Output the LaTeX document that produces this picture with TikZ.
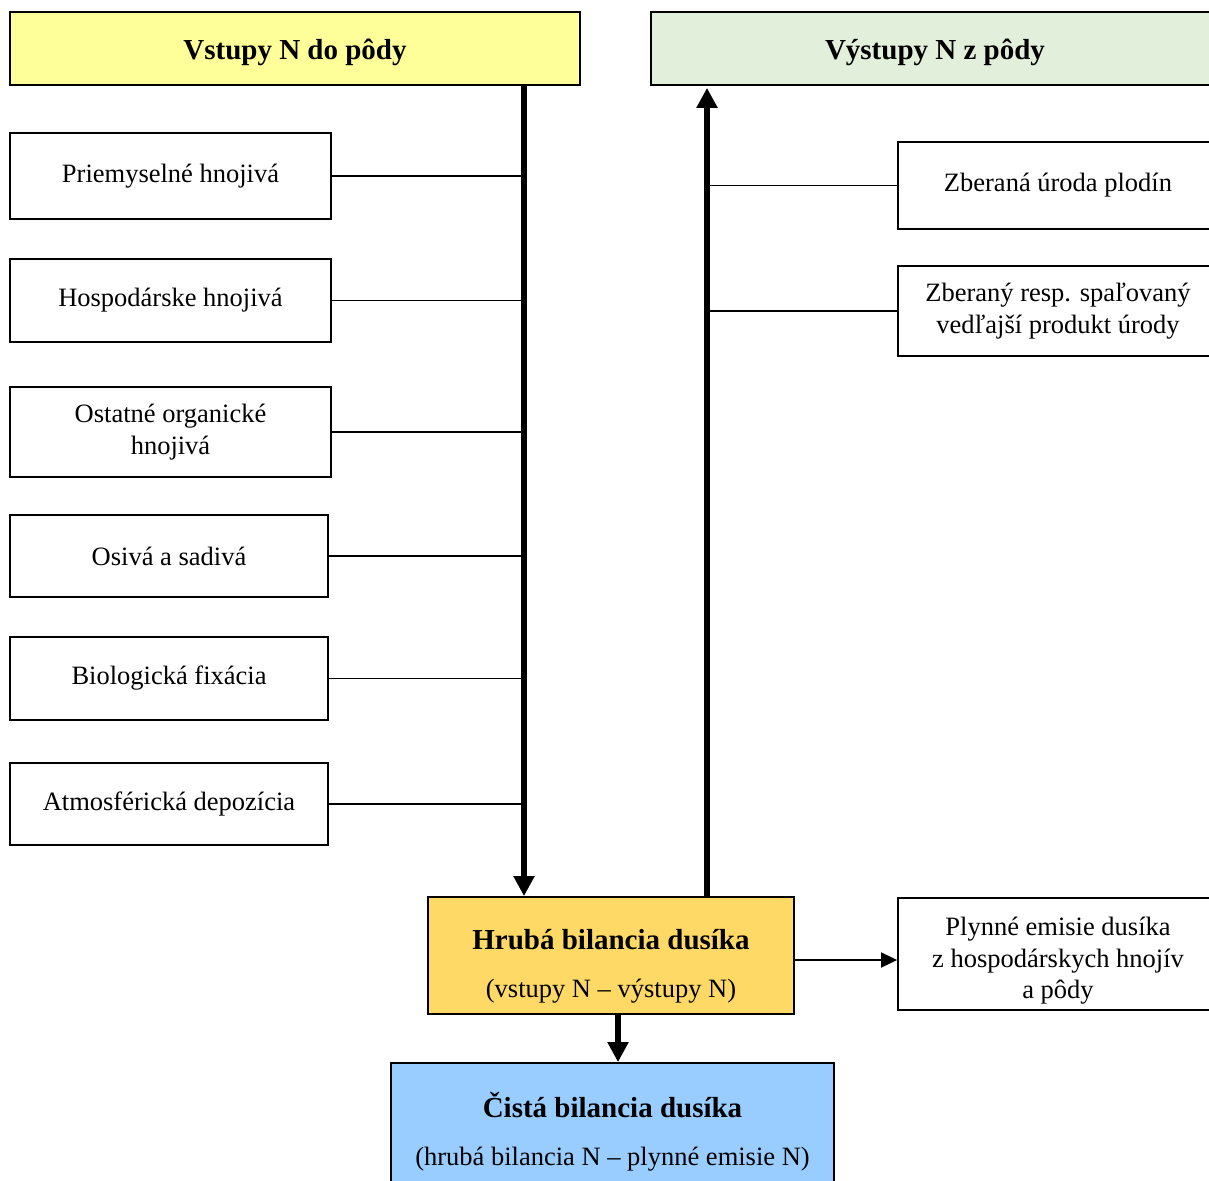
\documentclass[tikz,border=0pt]{standalone}
\usepackage{fontspec}
\setmainfont{Liberation Serif}
\usetikzlibrary{arrows.meta}
\newcommand\bodyfs{\fontsize{26.5}{31.5}\selectfont}
\newcommand\headfs{\fontsize{29}{34}\selectfont\bfseries}
\definecolor{cyellow}{HTML}{FFFF99}
\definecolor{cgreen}{HTML}{E2EFDA}
\definecolor{corange}{HTML}{FFD966}
\definecolor{cblue}{HTML}{99CCFF}
\tikzset{
  box/.style={draw, line width=1.8pt, align=center, inner sep=0pt, font=\bodyfs},
  headbox/.style={box, font=\headfs, text height=22pt, text depth=0pt},
  thin/.style={line width=1.8pt},
  bigarrow/.style={line width=6pt, -{Triangle[length=20pt,width=20pt]}},
  smallarrow/.style={line width=1.8pt, -{Triangle[length=16pt,width=15pt]}},
  txt/.style={align=center, inner sep=0pt, font=\bodyfs}
}
\begin{document}
\begin{tikzpicture}[x=1pt,y=1pt]
\clip (0,0) rectangle (1209,-1180);
\fill[white] (0,0) rectangle (1209,-1180);
% header boxes
\node[headbox, fill=cyellow, minimum width=570, minimum height=73] (vstupy) at (295,-48.5) {Vstupy N do pôdy};
\node[headbox, fill=cgreen, minimum width=568, minimum height=73] (vystupy) at (935,-48.5) {Výstupy N z pôdy};
% left boxes
\node[box, minimum width=321, minimum height=86] (l1) at (170.5,-176) {Priemyselné hnojivá};
\node[box, minimum width=321, minimum height=83] (l2) at (170.5,-300.5) {Hospodárske hnojivá};
\node[box, minimum width=321, minimum height=90] (l3) at (170.5,-432) {Ostatné organické\\hnojivá};
\node[box, minimum width=318, minimum height=82] (l4) at (169,-556) {Osivá a sadivá};
\node[box, minimum width=318, minimum height=83] (l5) at (169,-678.5) {Biologická fixácia};
\node[box, minimum width=318, minimum height=82] (l6) at (169,-804) {Atmosférická depozícia};
% right boxes
\node[box, minimum width=320, minimum height=87] (r1) at (1058,-185.5) {Zberaná úroda plodín};
\node[box, minimum width=320, minimum height=90] (r2) at (1058,-311) {Zberaný resp. spaľovaný\\vedľajší produkt úrody};
\node[box, minimum width=320, minimum height=112] (plynne) at (1058,-954) {\rule{0pt}{32pt}Plynné emisie dusíka\\z hospodárskych hnojív\\a pôdy};
% balance boxes
\node[box, fill=corange, minimum width=366, minimum height=117] (hruba) at (611,-955.5) {};
\node[txt] (hrubat) at (611,-966) {{\headfs Hrubá bilancia dusíka}\\[16.5pt](vstupy N – výstupy N)};
\node[box, fill=cblue, minimum width=443, minimum height=120] (cista) at (612.5,-1123) {};
\node[txt] (cistat) at (612.5,-1132) {{\headfs Čistá bilancia dusíka}\\[16.5pt](hrubá bilancia N – plynné emisie N)};
% guide coordinates
\coordinate (dx) at (524,0);
\coordinate (ux) at (707,0);
\coordinate (bx) at (618,0);
\coordinate (py) at (0,-960);
% connectors
\foreach \n in {l1,l2,l3,l4,l5,l6}
  \draw[thin] (\n.east) -- (\n.east -| dx);
\foreach \n in {r1,r2}
  \draw[thin] (\n.west) -- (\n.west -| ux);
\draw[bigarrow] (vstupy.south -| dx) -- (hruba.north -| dx);
\draw[bigarrow] (hruba.north -| ux) -- ([yshift=-2pt]vystupy.south -| ux);
\draw[bigarrow] (hruba.south -| bx) -- (cista.north -| bx);
\draw[smallarrow] (hruba.east |- py) -- (plynne.west |- py);
\end{tikzpicture}
\end{document}
